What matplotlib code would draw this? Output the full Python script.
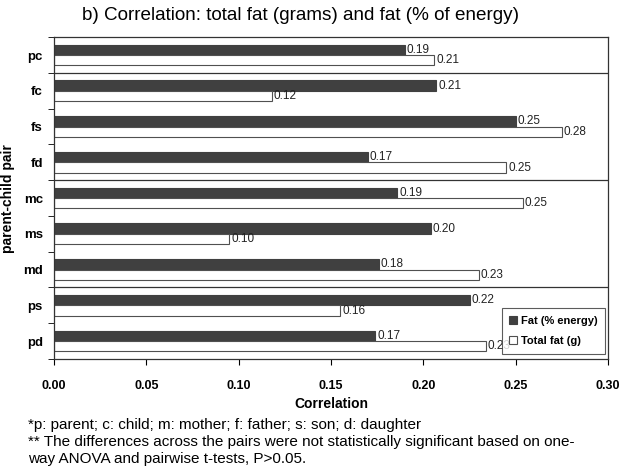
import matplotlib.pyplot as plt
import numpy as np

plt.rcParams['font.family'] = ['Liberation Sans', 'DejaVu Sans']

pairs = ['pc', 'fc', 'fs', 'fd', 'mc', 'ms', 'md', 'ps', 'pd']
fat_energy = [0.190, 0.207, 0.250, 0.170, 0.186, 0.204, 0.176, 0.225, 0.174]
total_fat = [0.206, 0.118, 0.275, 0.245, 0.254, 0.095, 0.230, 0.155, 0.234]
fat_energy_lbl = ['0.19', '0.21', '0.25', '0.17', '0.19', '0.20', '0.18', '0.22', '0.17']
total_fat_lbl = ['0.21', '0.12', '0.28', '0.25', '0.25', '0.10', '0.23', '0.16', '0.23']
separators = [0.5, 3.5, 6.5]
xticks = [0.00, 0.05, 0.10, 0.15, 0.20, 0.25, 0.30]

fig = plt.figure(figsize=(6.25, 4.74), dpi=100)
ax = fig.add_axes([0.0864, 0.2426, 0.8864, 0.679])

y = np.arange(len(pairs))
h = 0.29
ax.barh(y - h / 2, fat_energy, height=h, color='#404040', edgecolor='#404040',
        linewidth=0.8, label='Fat (% energy)')
ax.barh(y + h / 2, total_fat, height=h, color='white', edgecolor='#505050',
        linewidth=0.8, label='Total fat (g)')

# value labels next to each bar
for yi, v, s in zip(y, fat_energy, fat_energy_lbl):
    ax.text(v + 0.001, yi - h / 2, s, va='center', ha='left', fontsize=8.5, color='#222222')
for yi, v, s in zip(y, total_fat, total_fat_lbl):
    ax.text(v + 0.001, yi + h / 2, s, va='center', ha='left', fontsize=8.5, color='#222222')

for s in separators:
    ax.axhline(s, color='#333333', linewidth=0.9)

ax.set_ylim(len(pairs) - 0.5, -0.5)
ax.set_xlim(0, 0.30)
ax.set_yticks(y)
ax.set_yticklabels(pairs, fontsize=9.5, fontweight='bold')
ax.set_yticks(np.arange(-0.5, len(pairs), 1), minor=True)
ax.tick_params(axis='y', which='major', length=0, pad=8)
ax.tick_params(axis='y', which='minor', length=4, direction='out')
ax.set_xticks(xticks)
ax.set_xticklabels(['%.2f' % t for t in xticks], fontsize=9, fontweight='bold')
ax.tick_params(axis='x', length=4, direction='out', pad=11)

for sp in ax.spines.values():
    sp.set_color('#333333')
    sp.set_linewidth(0.9)

ax.set_xlabel('Correlation', fontsize=10, fontweight='bold', labelpad=4)
ax.set_ylabel('parent-child pair', fontsize=10, fontweight='bold', labelpad=6)

fig.text(0.48, 0.967, 'b) Correlation: total fat (grams) and fat (% of energy)',
         ha='center', va='center', fontsize=13.6)

leg = ax.legend(loc='lower right', bbox_to_anchor=(0.9946, 0.0155), borderaxespad=0,
                prop={'weight': 'bold', 'size': 8}, frameon=True, fancybox=False,
                edgecolor='#333333', handlelength=0.7, handleheight=0.7,
                handletextpad=0.3, borderpad=0.7, labelspacing=0.95)
leg.get_frame().set_linewidth(0.8)

fig.text(0.045, 0.1034, '*p: parent; c: child; m: mother; f: father; s: son; d: daughter',
         fontsize=11, va='center')
fig.text(0.045, 0.0675, '** The differences across the pairs were not statistically significant based on one-',
         fontsize=11, va='center')
fig.text(0.045, 0.0316, 'way ANOVA and pairwise t-tests, P>0.05.', fontsize=11, va='center')

fig.savefig('out.png', dpi=100)
